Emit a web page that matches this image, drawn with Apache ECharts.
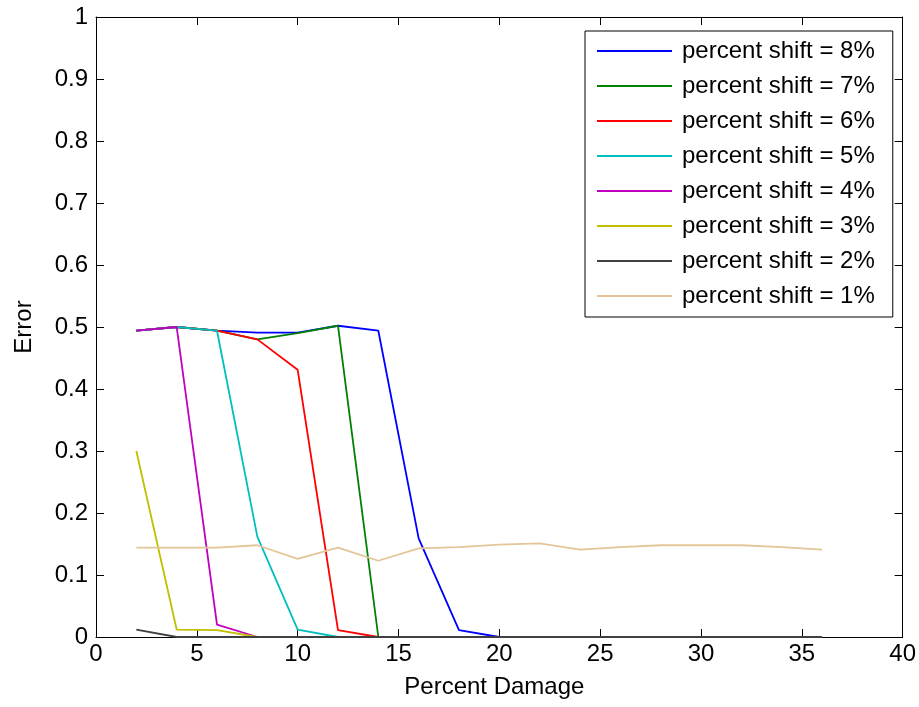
<!DOCTYPE html>
<html>
<head>
<meta charset="utf-8">
<script src="https://cdn.jsdelivr.net/npm/echarts@6/dist/echarts.min.js"></script>
<style>html,body{margin:0;padding:0;background:#fff}#c{width:919px;height:707px}</style>
</head>
<body>
<div id="c"></div>
<script>
const xValues = [2,4,6,8,10,12,14,16,18,20,22,24,26,28,30,32,34,36];
const seriesNames = ['percent shift = 8%','percent shift = 7%','percent shift = 6%','percent shift = 5%','percent shift = 4%','percent shift = 3%','percent shift = 2%','percent shift = 1%'];
const shift8 = [0.494,0.500,0.494,0.491,0.491,0.502,0.494,0.159,0.011,0,0,0,0,0,0,0,0,0];
const shift7 = [0.494,0.500,0.494,0.480,0.490,0.502,0,0,0,0,0,0,0,0,0,0,0,0];
const shift6 = [0.494,0.500,0.494,0.480,0.431,0.011,0,0,0,0,0,0,0,0,0,0,0,0];
const shift5 = [0.494,0.500,0.494,0.162,0.012,0,0,0,0,0,0,0,0,0,0,0,0,0];
const shift4 = [0.494,0.500,0.020,0,0,0,0,0,0,0,0,0,0,0,0,0,0,0];
const shift3 = [0.300,0.012,0.011,0,0,0,0,0,0,0,0,0,0,0,0,0,0,0];
const shift2 = [0.012,0,0,0,0,0,0,0,0,0,0,0,0,0,0,0,0,0];
const shift1 = [0.144,0.144,0.144,0.148,0.126,0.144,0.123,0.143,0.145,0.149,0.151,0.141,0.145,0.148,0.148,0.148,0.145,0.141];
const colors = ['#0000FF','#008000','#FF0000','#00BFBF','#BF00BF','#BFBF00','#404040','#E3C598'];
const allValues = [shift8,shift7,shift6,shift5,shift4,shift3,shift2,shift1];

const FONT = 'Liberation Sans, Arial, sans-serif';
const chart = echarts.init(document.getElementById('c'));
const series = allValues.map((vals,i)=>({
  name: seriesNames[i],
  type: 'line',
  data: vals.map((v,j)=>[xValues[j], v]),
  showSymbol: false,
  symbol: 'none',
  lineStyle: {color: colors[i], width: 1.8},
  itemStyle: {color: colors[i]},
  z: 2 + i,
  animation: false
}));
const axisCommon = {
  axisLine: {show: true, onZero: false, lineStyle: {color: '#000', width: 1}},
  axisTick: {show: true, inside: true, length: 8, lineStyle: {color: '#000'}},
  splitLine: {show: false}
};
chart.setOption({
  animation: false,
  backgroundColor: '#fff',
  grid: {left: 96, right: 16, top: 17, bottom: 70, containLabel: false},
  legend: {
    orient: 'vertical',
    left: 585, top: 31,
    padding: [8, 18, 9, 12],
    itemGap: 11,
    itemWidth: 75, itemHeight: 2,
    icon: 'rect',
    backgroundColor: '#fff',
    borderColor: '#000', borderWidth: 1,
    textStyle: {fontFamily: FONT, fontSize: 24, color: '#000', lineHeight: 24, padding: [0,0,0,5]},
    data: seriesNames
  },
  xAxis: [
    Object.assign({type: 'value', min: 0, max: 40, interval: 5, position: 'bottom',
      name: 'Percent Damage', nameLocation: 'middle', nameGap: 38,
      nameTextStyle: {fontFamily: FONT, fontSize: 24, color: '#000', padding: [0, 10, 0, 0]},
      axisLabel: {fontFamily: FONT, fontSize: 24, color: '#000', margin: 5}}, axisCommon),
    Object.assign({type: 'value', min: 0, max: 40, interval: 5, position: 'top',
      axisLabel: {show: false}}, axisCommon)
  ],
  yAxis: [
    Object.assign({type: 'value', min: 0, max: 1, interval: 0.1, position: 'left',
      name: 'Error', nameLocation: 'middle', nameGap: 60,
      nameTextStyle: {fontFamily: FONT, fontSize: 24, color: '#000'},
      axisLabel: {fontFamily: FONT, fontSize: 24, color: '#000', margin: 8}}, axisCommon),
    Object.assign({type: 'value', min: 0, max: 1, interval: 0.1, position: 'right',
      axisLabel: {show: false}}, axisCommon)
  ],
  series: series
});
</script>
</body>
</html>
